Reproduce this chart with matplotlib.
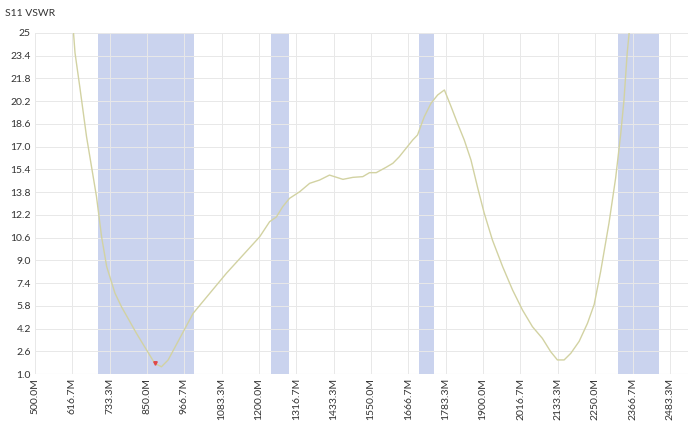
import matplotlib
matplotlib.use("Agg")
import matplotlib.pyplot as plt

# ---- data ----
freq_mhz = [605, 620, 625, 640, 661, 692, 708, 724, 750, 770, 817, 874, 895, 916,
            994, 1098, 1202, 1233, 1254, 1274, 1295, 1327, 1358, 1389, 1420, 1462,
            1493, 1524, 1545, 1566, 1597, 1618, 1638, 1659, 1680, 1695, 1716, 1737,
            1758, 1779, 1800, 1820, 1841, 1862, 1883, 1903, 1929, 1961, 1992, 2023,
            2054, 2085, 2111, 2132, 2153, 2174, 2200, 2226, 2247, 2267, 2293, 2314,
            2330, 2340, 2350, 2356, 2365]
vswr = [26.2, 25.1, 23.6, 21.2, 17.7, 13.5, 10.66, 8.55, 6.68, 5.74, 3.86, 1.75, 1.51, 1.99,
        5.27, 8.09, 10.66, 11.72, 12.05, 12.78, 13.36, 13.83, 14.42, 14.65, 15.0, 14.7,
        14.84, 14.89, 15.17, 15.17, 15.55, 15.83, 16.29, 16.88, 17.47, 17.82, 19.1, 20.05,
        20.64, 20.99, 19.81, 18.64, 17.47, 16.06, 14.1, 12.35, 10.43, 8.55, 6.91, 5.5,
        4.33, 3.51, 2.57, 1.99, 1.99, 2.46, 3.3, 4.57, 5.9, 8.2, 11.6, 14.8,
        17.94, 20.28, 23.57, 24.98, 27.0]

marker_freq = [874]
marker_vswr = [1.75]

bands = [(697, 996), (1238, 1295), (1701, 1748), (2321, 2449)]

x_ticks = [500.0, 616.7, 733.3, 850.0, 966.7, 1083.3, 1200.0, 1316.7, 1433.3,
           1550.0, 1666.7, 1783.3, 1900.0, 2016.7, 2133.3, 2250.0, 2366.7, 2483.3]
x_labels = ["500.0M", "616.7M", "733.3M", "850.0M", "966.7M", "1083.3M", "1200.0M",
            "1316.7M", "1433.3M", "1550.0M", "1666.7M", "1783.3M", "1900.0M",
            "2016.7M", "2133.3M", "2250.0M", "2366.7M", "2483.3M"]
y_ticks = [1.0, 2.6, 4.2, 5.8, 7.4, 9.0, 10.6, 12.2, 13.8, 15.4, 17.0, 18.6, 20.2,
           21.8, 23.4, 25.0]
y_labels = ["1.0", "2.6", "4.2", "5.8", "7.4", "9.0", "10.6", "12.2", "13.8", "15.4",
            "17.0", "18.6", "20.2", "21.8", "23.4", "25"]

# ---- figure ----
plt.rcParams['font.family'] = ['Lato', 'DejaVu Sans']
fig = plt.figure(figsize=(6.9, 4.24), dpi=100)
ax = fig.add_axes([35 / 690, 50 / 424, 653 / 690, 341 / 424])

for lo, hi in bands:
    ax.axvspan(lo, hi, color='#cad3ee', zorder=0.5, lw=0)

ax.plot(freq_mhz, vswr, color='#d2d2a2', lw=1.0, zorder=3, solid_joinstyle='round')
ax.plot(marker_freq, marker_vswr, marker='v', color='#e04848', ms=2.5, zorder=4, lw=0)

ax.set_xlim(500, 2540)
ax.set_ylim(1.0, 25.0)
ax.set_xticks(x_ticks)
ax.set_xticklabels(x_labels, rotation=90, fontsize=7.5, color='#333333')
ax.set_yticks(y_ticks)
ax.set_yticklabels(y_labels, fontsize=7.5, color='#333333')
ax.tick_params(length=0, pad=3)
ax.grid(True, color='#e8e8e8', lw=0.7, zorder=1)
ax.set_axisbelow(False)
for s in ax.spines.values():
    s.set_visible(False)
ax.axhline(1.0, color='#dcdcdc', lw=0.8, zorder=1)

fig.text(5 / 690, 1 - 13 / 424, "S11 VSWR", fontsize=7.5, color='#333333',
         va='center', ha='left')

fig.savefig("out.png", dpi=100)
